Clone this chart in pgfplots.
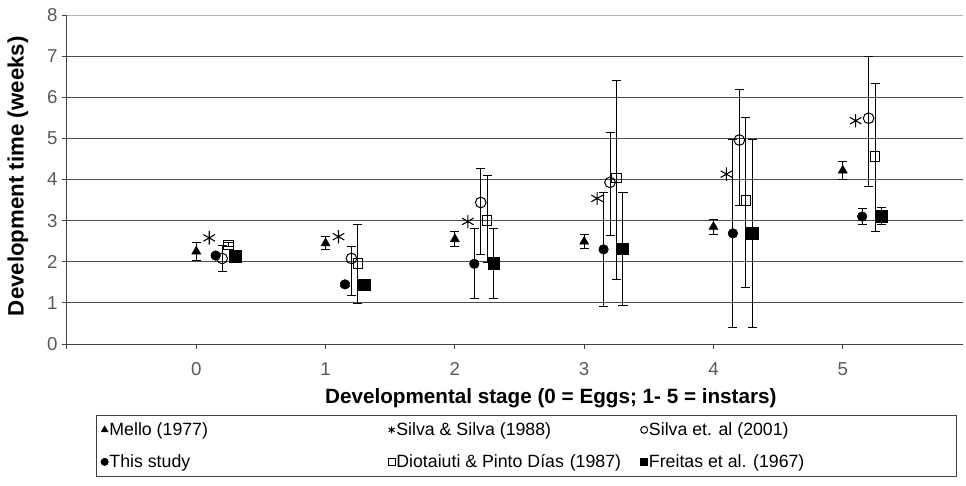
\documentclass[border=0pt]{standalone}
\usepackage{fontspec}
\setmainfont{Liberation Sans}
\usepackage{graphicx}
\usepackage{pgfplots}
\pgfplotsset{compat=1.18}

\pgfplotsset{
  ebar/.style={error bars/.cd, y dir=both, y explicit, error mark=|,
    error bar style={black, line width=0.75pt},
    error mark options={black, mark size=3.4pt, line width=0.75pt}},
}

\begin{document}
\begin{tikzpicture}
\begin{axis}[
  scale only axis, width=672pt, height=246.75pt,
  at={(0,0)}, anchor=south west,
  xmin=-1, xmax=5.93, ymin=0, ymax=8,
  axis x line*=bottom, axis y line*=left,
  axis line style={black!75, line width=0.75pt},
  xtick={-1,0,1,2,3,4,5}, xticklabels={,0,1,2,3,4,5},
  ytick={0,1,2,3,4,5,6,7},
  extra y ticks={8},
  extra y tick style={grid style={black!30, line width=0.75pt}},
  tick align=outside, major tick length=3.5pt,
  tick style={black!75, line width=0.75pt},
  ymajorgrids, grid style={black!70, line width=0.75pt},
  ticklabel style={font=\fontsize{14}{16}\selectfont, text=black!65},
  xticklabel style={yshift=-7pt},
  /pgf/number format/assume math mode=true,
  xlabel={Developmental stage (0 = Eggs; 1- 5 = instars)},
  ylabel={Development time (weeks)},
  xlabel style={font=\bfseries\fontsize{15.5}{18}\selectfont, at={(axis description cs:0.54,-0.164)}, anchor=center},
  ylabel style={font=\bfseries\fontsize{16.7}{19}\selectfont, at={(axis description cs:-0.0547,0.51)}, anchor=center},
  legend columns=3,
  legend cell align=left,
  legend style={at={(axis description cs:0.0324,-0.2158)}, anchor=north west,
    draw=black!75, line width=0.75pt, font=\fontsize{13.3}{15.5}\selectfont,
    inner xsep=3.5pt, inner ysep=4.2pt, row sep=10.8pt,
    /tikz/every even column/.append style={column sep=0pt},
    nodes={inner xsep=1pt, inner ysep=1pt}},
  legend image code/.code={\draw[#1, mark size=2.6pt] plot coordinates {(0pt,0pt)};},
]
% Mello (1977)
\addplot[black, only marks, mark=triangle*, mark size=3.9pt, mark options={fill=black}, ebar] coordinates {
  (0,2.25) +- (0,0.22)
  (1,2.45) +- (0,0.16)
  (2,2.55) +- (0,0.18)
  (3,2.49) +- (0,0.17)
  (4,2.85) +- (0,0.18)
  (5,4.22) +- (0,0.21)
};
\addlegendentry{\makebox[208pt][l]{Mello (1977)}}
% Silva & Silva (1988)
\addplot[black, only marks, mark=asterisk, mark size=5pt, mark options={line width=0.8pt}] coordinates {
  (0.1,2.58) (1.1,2.61) (2.1,2.98) (3.1,3.54) (4.1,4.13) (5.1,5.43)
};
\addlegendentry{\makebox[182.25pt][l]{Silva \& Silva (1988)}}
% Silva et al (2001)
\addplot[black, only marks, mark=o, mark size=4pt, mark options={line width=0.75pt}, ebar] coordinates {
  (0.2,2.08) += (0,0.32) -= (0,0.32)
  (1.2,2.08) += (0,0.29) -= (0,0.91)
  (2.2,3.44) += (0,0.83) -= (0,1.26)
  (3.2,3.93) += (0,1.21) -= (0,1.29)
  (4.2,4.96) += (0,1.24) -= (0,1.60)
  (5.2,5.49) += (0,1.51) -= (0,1.65)
};
\addlegendentry{\makebox[225.75pt][l]{Silva et. al (2001)}}
% This study
\addplot[black, only marks, mark=*, mark size=3.6pt, mark options={fill=black}, ebar] coordinates {
  (0.15,2.15) +- (0,0.05)
  (1.15,1.45) +- (0,0.05)
  (2.15,1.95) +- (0,0.85)
  (3.15,2.30) +- (0,1.38)
  (4.15,2.69) +- (0,2.29)
  (5.15,3.10) +- (0,0.20)
};
\addlegendentry{\makebox[208pt][l]{This study}}
% Diotaiuti & Pinto Dias (1987)
\addplot[black, only marks, mark=square, mark size=3.5pt, mark options={line width=0.75pt}, ebar] coordinates {
  (0.25,2.41) += (0,0.05) -= (0,0.05)
  (1.25,1.96) += (0,0.94) -= (0,0.97)
  (2.25,3.00) += (0,1.09) -= (0,1.02)
  (3.25,4.03) += (0,2.38) -= (0,2.45)
  (4.25,3.49) += (0,2.02) -= (0,2.11)
  (5.25,4.56) += (0,1.77) -= (0,1.83)
};
\addlegendentry{\makebox[182.25pt][l]{Diotaiuti \& Pinto Días\,\,(1987)}}
% Freitas et al. (1967)
\addplot[black, only marks, mark=square*, mark size=4.3pt, mark options={fill=black}, ebar] coordinates {
  (0.3,2.13) +- (0,0.05)
  (1.3,1.44) +- (0,0.05)
  (2.3,1.96) +- (0,0.85)
  (3.3,2.31) +- (0,1.38)
  (4.3,2.69) +- (0,2.29)
  (5.3,3.11) +- (0,0.20)
};
\addlegendentry{\makebox[225.75pt][l]{Freitas et al. (1967)}}
\end{axis}
\pgfresetboundingbox
\path[use as bounding box] (-50.25pt,-105.75pt) rectangle (674.25pt,258pt);
\end{tikzpicture}
\end{document}
